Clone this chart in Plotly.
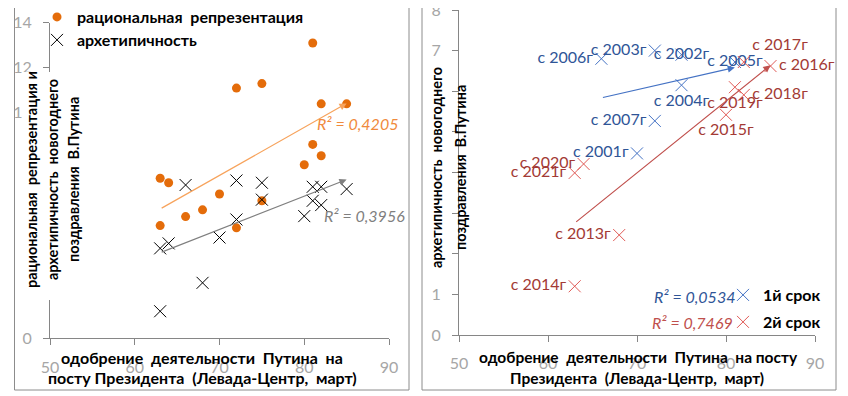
import numpy as np
import plotly.graph_objects as go

# ---------------- data ----------------
years1 = [2001, 2002, 2003, 2004, 2005, 2006, 2007]
approval1 = [70, 75, 72, 75, 81, 66, 72]
archetype1 = [4.47, 6.9, 7.0, 6.15, 6.72, 6.8, 5.27]
rational1 = [6.4, 11.3, 11.1, 6.1, 13.1, 5.4, 4.9]

years2 = [2013, 2014, 2015, 2016, 2017, 2018, 2019, 2020, 2021]
approval2 = [68, 63, 80, 85, 82, 82, 81, 64, 63]
archetype2 = [2.46, 1.2, 5.42, 6.62, 6.72, 5.91, 6.1, 4.21, 3.99]
rational2 = [5.7, 7.1, 7.7, 10.4, 10.4, 8.1, 8.6, 6.9, 5.0]

labels1 = ["с %dг" % y for y in years1]
labels2 = ["с %dг" % y for y in years2]

r2_rational = "R² = 0,4205"
r2_arch = "R² = 0,3956"
r2_term1 = "R² = 0,0534"
r2_term2 = "R² = 0,7469"

x_ticks = [50, 60, 70, 80, 90]
y_ticks_left = [0, 2, 4, 6, 8, 10, 12, 14]
y_ticks_right = [0, 1, 2, 3, 4, 5, 6, 7, 8]

name_rational = "рациональная  репрезентация"
name_arch = "архетипичность"
name_term1 = "1й срок"
name_term2 = "2й срок"

x_title = ["одобрение  деятельности  Путина  на", "посту Президента  (Левада-Центр,  март)"]
x_title_r = ["одобрение  деятельности  Путина  на посту", "Президента  (Левада-Центр,  март)"]
y_title_l = ["рациональная  репрезентация и", "архетипичность  новогоднего", "поздравления  В.Путина"]
y_title_r = ["архетипичность  новогоднего", "поздравления  В.Путина"]

# ---------------- style ----------------
W, H = 848, 396
OX, OY = 8, 8  # page body margin of the written html
FONT = "Lato, 'Liberation Sans', sans-serif"
ORANGE = "#E46C0A"
ORANGE_TR = "#F7A35C"
GRAY_TR = "#7F7F7F"
BLUE_M = "#4472C4"
BLUE_T = "#2F5597"
RED_M = "#E05A56"
RED_T = "#A33A35"
AXIS = "#868686"
TICKC = "#A6A6A6"


def px(x):
    return (x - OX) / W


def py(y):
    return 1 - (y - OY) / H


approval_all = approval1 + approval2
rational_all = rational1 + rational2
arch_all = archetype1 + archetype2


def trend(xs, ys):
    k, b = np.polyfit(np.array(xs, float), np.array(ys, float), 1)
    x0, x1 = min(xs), max(xs)
    return x0, k * x0 + b, x1, k * x1 + b


fig = go.Figure()

fig.add_trace(go.Scatter(
    x=approval_all, y=rational_all, mode="markers", name=name_rational,
    marker=dict(symbol="circle", size=9, color=ORANGE),
    xaxis="x", yaxis="y", legend="legend5", showlegend=True))
fig.add_trace(go.Scatter(
    x=approval_all, y=arch_all, mode="markers", name=name_arch,
    marker=dict(symbol="x-thin", size=12, color="black", line=dict(color="black", width=1)),
    xaxis="x", yaxis="y", legend="legend2", showlegend=True))

pos1 = ["middle left", "middle center", "middle left", "bottom center",
        "middle center", "middle left", "middle left"]
pos2 = ["middle left", "middle left", "bottom center", "middle right", "top right",
        "middle right", "bottom center", "middle left", "middle left"]

fig.add_trace(go.Scatter(
    x=approval1, y=archetype1, mode="markers+text", name=name_term1,
    text=labels1, textposition=pos1,
    textfont=dict(family=FONT, size=16, color=BLUE_T),
    marker=dict(symbol="x-thin", size=12, color=BLUE_M, line=dict(color=BLUE_M, width=1)),
    xaxis="x2", yaxis="y2", legend="legend3", showlegend=True, cliponaxis=False))
fig.add_trace(go.Scatter(
    x=approval2, y=archetype2, mode="markers+text", name=name_term2,
    text=labels2, textposition=pos2,
    textfont=dict(family=FONT, size=16, color=RED_T),
    marker=dict(symbol="x-thin", size=12, color=RED_M, line=dict(color=RED_M, width=1)),
    xaxis="x2", yaxis="y2", legend="legend4", showlegend=True, cliponaxis=False))

annotations = []


def arrow(xs, ys, color, xr, yr):
    x0, y0, x1, y1 = trend(xs, ys)
    annotations.append(dict(x=x1, y=y1, ax=x0, ay=y0, xref=xr, yref=yr, axref=xr, ayref=yr,
                            text="", showarrow=True, arrowhead=2, arrowsize=1.2,
                            arrowwidth=1.2, arrowcolor=color))


arrow(approval_all, rational_all, ORANGE_TR, "x", "y")
arrow(approval_all, arch_all, GRAY_TR, "x", "y")
arrow(approval1, archetype1, BLUE_M, "x2", "y2")
arrow(approval2, archetype2, "#C0504D", "x2", "y2")


def txt(t, x, y, size=16, color="black", bold=True, italic=False, angle=0, xanchor="center"):
    s = t
    if bold:
        s = "<b>%s</b>" % s
    if italic:
        s = "<i>%s</i>" % s
    annotations.append(dict(text=s, x=px(x), y=py(y), xref="paper", yref="paper",
                            showarrow=False, textangle=angle, xanchor=xanchor, yanchor="middle",
                            font=dict(family=FONT, size=size, color=color)))


# R² labels
txt(r2_rational, 315, 123, size=16, color="#F08A3C", bold=False, italic=True, xanchor="left")
txt(r2_arch, 322, 215, size=16, color=GRAY_TR, bold=False, italic=True, xanchor="left")
txt(r2_term1, 652, 296, size=16, color=BLUE_T, bold=False, italic=True, xanchor="left")
txt(r2_term2, 650, 322, size=16, color="#C0504D", bold=False, italic=True, xanchor="left")

# axis titles
txt(x_title[0], 202, 357)
txt(x_title[1], 202, 377)
txt(x_title_r[0], 638, 357, size=15.5)
txt(x_title_r[1], 637, 378, size=15.5)
for i, t in enumerate(y_title_l):
    txt(t, [31, 52, 73][i], 180, angle=-90, size=14.5)
for i, t in enumerate(y_title_r):
    txt(t, [437, 461][i], 168, angle=-90, size=14.5)

shapes = [
    dict(type="rect", xref="paper", yref="paper", x0=px(14.5), x1=px(409), y0=py(390), y1=py(-2),
         line=dict(color="#8C8C8C", width=1), fillcolor="rgba(0,0,0,0)", layer="below"),
    dict(type="rect", xref="paper", yref="paper", x0=px(422), x1=px(836), y0=py(390), y1=py(-2),
         line=dict(color="#8C8C8C", width=1), fillcolor="rgba(0,0,0,0)", layer="below"),
    # white boxes behind rotated titles (hide tick labels like in the original)
    dict(type="rect", xref="paper", yref="paper", x0=px(22), x1=px(83), y0=py(300), y1=py(72),
         line=dict(width=0), fillcolor="white", layer="above"),
    dict(type="rect", xref="paper", yref="paper", x0=px(428), x1=px(447), y0=py(272), y1=py(70),
         line=dict(width=0), fillcolor="white", layer="above"),
]

axis_common = dict(showline=True, linecolor=AXIS, linewidth=1, ticks="outside", ticklen=6,
                   tickcolor=AXIS, showgrid=False, zeroline=False, automargin=False,
                   ticklabeloverflow="allow",
                   tickfont=dict(family=FONT, size=16, color=TICKC), ticklabelstandoff=8)

leg_font = dict(family=FONT, size=16, color="black", weight="bold")


def leg(x, y, anchor="middle"):
    return dict(x=px(x), y=y, xanchor="left", yanchor=anchor, bgcolor="rgba(0,0,0,0)",
                font=leg_font, visible=True)


fig.update_layout(
    width=W, height=H, margin=dict(l=0, r=0, t=0, b=0, pad=0, autoexpand=False),
    paper_bgcolor="white", plot_bgcolor="white",
    xaxis=dict(domain=[px(50), px(389)], range=[50, 90], tickvals=x_ticks, anchor="y", **axis_common),
    yaxis=dict(domain=[py(338.3), py(22.7)], range=[0, 14], tickvals=y_ticks_left, anchor="x", **axis_common),
    xaxis2=dict(domain=[px(459), px(815)], range=[50, 90], tickvals=x_ticks, anchor="y2", **axis_common),
    yaxis2=dict(domain=[py(335), py(10)], range=[0, 8], tickvals=y_ticks_right, anchor="x2", **axis_common),
    legend5=leg(37, py(17)),
    legend2=leg(37, py(40)),
    legend3=leg(723, py(295)),
    legend4=leg(723, py(322)),
    annotations=annotations, shapes=shapes,
)

fig.write_html("out.html")
